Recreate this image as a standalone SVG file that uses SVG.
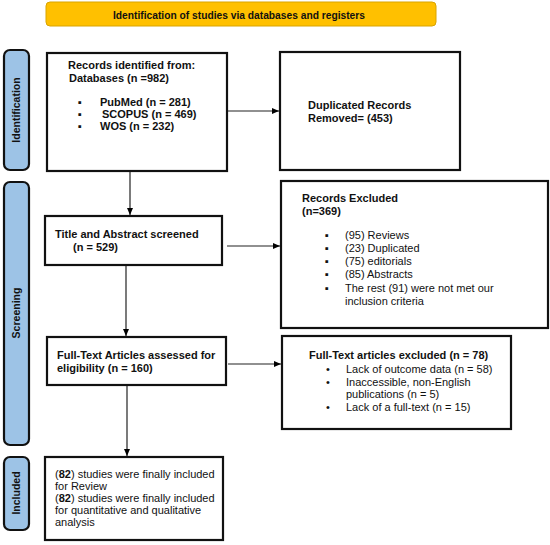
<svg xmlns="http://www.w3.org/2000/svg" width="550" height="545" viewBox="0 0 550 545">
<defs>
<marker id="ah" markerWidth="8" markerHeight="8" refX="7" refY="4" orient="auto" markerUnits="userSpaceOnUse">
<path d="M0,1 L7,4 L0,7 Z" fill="#000"/>
</marker>
<style>
text{font-family:"Liberation Sans",Arial,sans-serif;font-size:11px;fill:#111}
.b{font-weight:bold}
.box{fill:#fff;stroke:#111;stroke-width:2.2}
.tab{fill:#9dc3e6;stroke:#111;stroke-width:2.2}
.tl{font-weight:bold;font-size:10.5px;text-anchor:middle}
.c{stroke:#222;stroke-width:1.2;fill:none;marker-end:url(#ah)}
</style>
</defs>
<rect width="550" height="545" fill="#fff"/>
<g id="banner">
<rect x="46" y="2" width="390" height="24" rx="4" fill="#ffc000" stroke="#d9a400" stroke-width="1"/>
<text x="239" y="18.5" class="b" text-anchor="middle" font-size="11" textLength="252" lengthAdjust="spacingAndGlyphs">Identification of studies via databases and registers</text>
</g>
<g id="tab-identification">
<rect x="4" y="50" width="25" height="120" rx="6" class="tab"/>
<text transform="translate(20,110) rotate(-90)" class="tl">Identification</text>
</g>
<g id="tab-screening">
<rect x="4" y="182" width="25" height="263" rx="6" class="tab"/>
<text transform="translate(20,313) rotate(-90)" class="tl">Screening</text>
</g>
<g id="tab-included">
<rect x="4" y="457" width="25" height="73" rx="6" class="tab"/>
<text transform="translate(20,493) rotate(-90)" class="tl">Included</text>
</g>
<g id="records-identified">
<rect x="47" y="53" width="180" height="118" class="box"/>
<text x="68" y="69" class="b">Records identified from:</text>
<text x="69" y="82" class="b">Databases (n =982)</text>
<text x="78" y="106" class="b">▪</text><text x="100" y="106" class="b">PubMed (n = 281)</text>
<text x="78" y="118" class="b">▪</text><text x="102" y="118" class="b">SCOPUS (n = 469)</text>
<text x="78" y="130" class="b">▪</text><text x="100" y="130" class="b">WOS (n = 232)</text>
</g>
<g id="duplicated">
<rect x="280" y="52" width="180" height="118" class="box"/>
<text x="308" y="109" class="b">Duplicated Records</text>
<text x="308" y="122" class="b">Removed= (453)</text>
</g>
<g id="title-abstract">
<rect x="45" y="216" width="177" height="49" class="box"/>
<text x="55" y="238" class="b">Title and Abstract screened</text>
<text x="73" y="251" class="b">(n = 529)</text>
</g>
<g id="records-excluded">
<rect x="281" y="181" width="267" height="147" class="box"/>
<text x="302" y="202" class="b">Records Excluded</text>
<text x="302" y="215" class="b">(n=369)</text>
<text x="325" y="239">▪</text><text x="345" y="239">(95) Reviews</text>
<text x="325" y="252">▪</text><text x="345" y="252">(23) Duplicated</text>
<text x="325" y="265">▪</text><text x="345" y="265">(75) editorials</text>
<text x="325" y="278">▪</text><text x="345" y="278">(85) Abstracts</text>
<text x="325" y="292">▪</text><text x="345" y="292">The rest (91) were not met our</text>
<text x="345" y="305">inclusion criteria</text>
</g>
<g id="full-text-assessed">
<rect x="47" y="337" width="179" height="48" class="box"/>
<text x="57" y="359" class="b">Full-Text Articles assessed for</text>
<text x="57" y="372" class="b">eligibility (n = 160)</text>
</g>
<g id="full-text-excluded">
<rect x="282" y="336" width="229" height="93" class="box"/>
<text x="309" y="359" class="b">Full-Text articles excluded (n = 78)</text>
<text x="326" y="373">•</text><text x="346" y="373">Lack of outcome data (n = 58)</text>
<text x="326" y="386">•</text><text x="346" y="386">Inaccessible, non-English</text>
<text x="346" y="398">publications (n = 5)</text>
<text x="326" y="411">•</text><text x="346" y="411">Lack of a full-text (n = 15)</text>
</g>
<g id="included">
<rect x="45" y="457" width="178" height="83" class="box"/>
<text x="55" y="478">(<tspan class="b">82</tspan>) studies were finally included</text>
<text x="55" y="490">for Review</text>
<text x="55" y="502">(<tspan class="b">82</tspan>) studies were finally included</text>
<text x="55" y="514">for quantitative and qualitative</text>
<text x="55" y="526">analysis</text>
</g>
<g id="connectors">
<line x1="228" y1="111" x2="279" y2="111" class="c"/>
<line x1="130" y1="172" x2="130" y2="215" class="c"/>
<line x1="227" y1="246" x2="280" y2="246" class="c"/>
<line x1="126" y1="266" x2="126" y2="336" class="c"/>
<line x1="228" y1="364" x2="281" y2="364" class="c"/>
<line x1="127" y1="386" x2="127" y2="456" class="c"/>
</g>
</svg>
